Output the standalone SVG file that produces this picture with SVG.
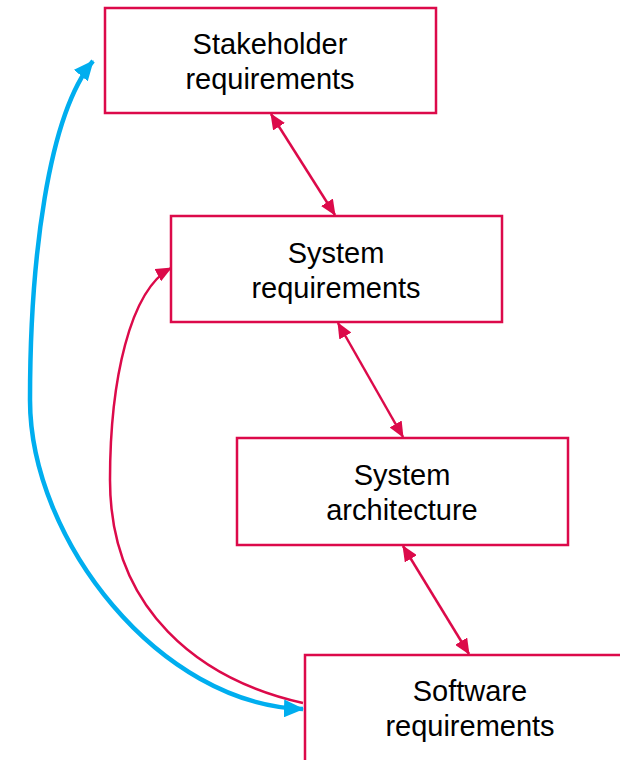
<svg xmlns="http://www.w3.org/2000/svg" width="620" height="760" viewBox="0 0 620 760">
<style>
.box{fill:#fff;stroke:#DC0A4A;stroke-width:2.5}
.t{font-family:"Liberation Sans",Arial,sans-serif;font-size:29px;fill:#000;text-anchor:middle}
.r{fill:none;stroke:#DC0A4A;stroke-width:2.5}
.b{fill:none;stroke:#00AEEF;stroke-width:4.5}
</style>
<defs>
<marker id="ra" markerUnits="userSpaceOnUse" markerWidth="16" markerHeight="14" refX="15" refY="7" orient="auto-start-reverse" viewBox="0 0 16 14">
<path d="M0,0 L16,7 L0,14 z" fill="#DC0A4A"/>
</marker>
<marker id="ba" markerUnits="userSpaceOnUse" markerWidth="20" markerHeight="18" refX="19" refY="9" orient="auto-start-reverse" viewBox="0 0 20 18">
<path d="M0,0 L20,9 L0,18 z" fill="#00AEEF"/>
</marker>
</defs>
<g id="connectors">
<path class="r" d="M303,703 C200,680 110,610 110,480 C110,380 130,290 171,268" marker-end="url(#ra)"/>
<path class="b" d="M303,709 C160,705 30,540 30,400 C30,260 48,115 93,61" marker-start="url(#ba)" marker-end="url(#ba)"/>
<line class="r" x1="271" y1="114" x2="335" y2="215" marker-start="url(#ra)" marker-end="url(#ra)"/>
<line class="r" x1="338" y1="323" x2="403" y2="437" marker-start="url(#ra)" marker-end="url(#ra)"/>
<line class="r" x1="403" y1="546" x2="469" y2="654" marker-start="url(#ra)" marker-end="url(#ra)"/>
</g>
<g id="stakeholder">
<rect class="box" x="105" y="8" width="331" height="105"/>
<text class="t" x="270" y="54">Stakeholder</text>
<text class="t" x="270" y="89">requirements</text>
</g>
<g id="sysreq">
<rect class="box" x="171" y="216" width="331" height="106"/>
<text class="t" x="336" y="263">System</text>
<text class="t" x="336" y="298">requirements</text>
</g>
<g id="sysarch">
<rect class="box" x="237" y="438" width="331" height="107"/>
<text class="t" x="402" y="485">System</text>
<text class="t" x="402" y="520">architecture</text>
</g>
<g id="swreq">
<rect class="box" x="305" y="655" width="340" height="120"/>
<text class="t" x="470" y="701">Software</text>
<text class="t" x="470" y="736">requirements</text>
</g>
</svg>
